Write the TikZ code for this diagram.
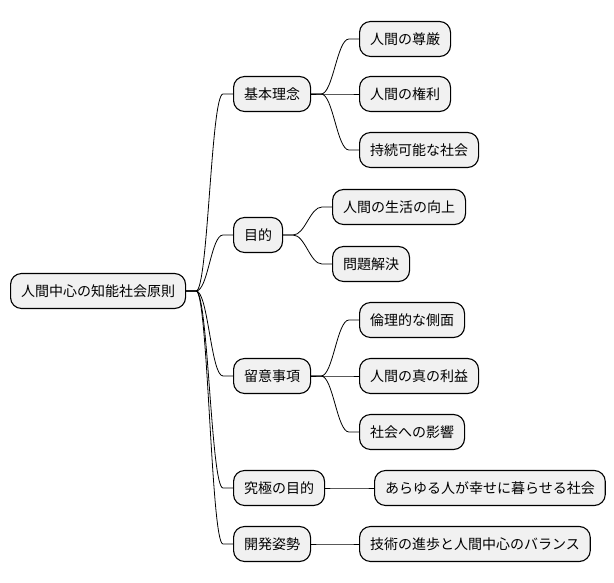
\documentclass[tikz,border=0pt]{standalone}
\usepackage{fontspec}
\setmainfont{Noto Sans CJK JP}
\usepackage{tikz}
\usetikzlibrary{positioning}
\definecolor{knotengrau}{HTML}{F1F1F1}

\begin{document}
\begin{tikzpicture}[x=1pt,y=-1pt,
  knoten/.style={draw=black,line width=1.1pt,fill=knotengrau,rounded corners=11pt,anchor=west,
    minimum height=35pt,inner xsep=10.5pt,inner ysep=0pt,font=\fontsize{14}{16}\selectfont},
  ast/.style={black,line width=0.8pt}]
%Bild 614x583, also 1pt pro Pixel
\useasboundingbox (0,0) rectangle (614,583);
%Wurzel
\node[knoten] (wurzel) at (10,291) {人間中心の知能社会原則};
%erste Ebene
\node[knoten] (grund)   at (233,94)  {基本理念};
\node[knoten] (ziel)    at (233,235) {目的};
\node[knoten] (hinweis) at (233,376) {留意事項};
\node[knoten] (endziel) at (233,488) {究極の目的};
\node[knoten] (haltung) at (233,544) {開発姿勢};
%zweite Ebene
\node[knoten] (wuerde)  at (359,39)  {人間の尊厳};
\node[knoten] (rechte)  at (359,94)  {人間の権利};
\node[knoten] (nachhalt) at (359,150) {持続可能な社会};
\node[knoten] (leben)   at (332,207) {人間の生活の向上};
\node[knoten] (problem) at (332,264) {問題解決};
\node[knoten] (ethik)   at (359,320) {倫理的な側面};
\node[knoten] (nutzen)  at (359,376) {人間の真の利益};
\node[knoten] (wirkung) at (359,432) {社会への影響};
\node[knoten] (glueck)  at (374,488) {あらゆる人が幸せに暮らせる社会};
\node[knoten] (balance) at (359,544) {技術の進歩と人間中心のバランス};
%Aeste: 10pt waagrecht raus, Kurve, 10pt waagrecht rein
\foreach \von/\nach in {wurzel/grund,wurzel/ziel,wurzel/hinweis,wurzel/endziel,wurzel/haltung,
  grund/wuerde,grund/rechte,grund/nachhalt,ziel/leben,ziel/problem,
  hinweis/ethik,hinweis/nutzen,hinweis/wirkung,endziel/glueck,haltung/balance}{
\draw[ast] (\von.east) -- ++(10,0) .. controls +(12,0) and +(-12,0) .. ([xshift=-10pt]\nach.west) -- (\nach.west);
}
\end{tikzpicture}
\end{document}
